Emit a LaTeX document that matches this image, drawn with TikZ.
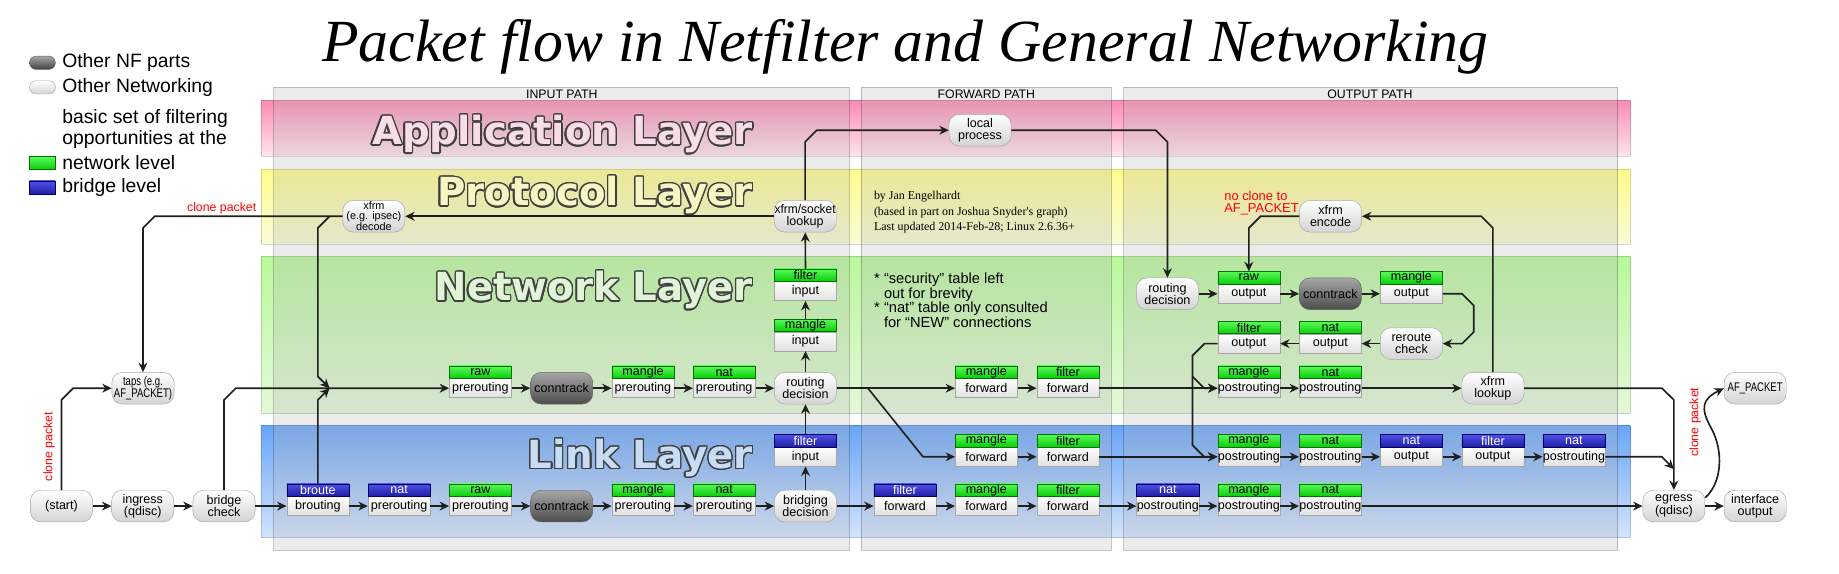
\documentclass[tikz,border=0pt]{standalone}
\usepackage{fontspec}
\setmainfont{Liberation Sans}
\newfontfamily\titlefont{Liberation Serif}
\newfontfamily\layerfont{DejaVu Sans}
\usepackage{graphicx}
\usepackage{contour}
\usetikzlibrary{positioning,arrows.meta,calc}

\contourlength{1.1pt}
\contournumber{24}

\definecolor{appTop}{RGB}{250,140,180}
\definecolor{appBot}{RGB}{255,228,238}
\definecolor{proTop}{RGB}{255,252,140}
\definecolor{proBot}{RGB}{250,250,215}
\definecolor{netTop}{RGB}{185,248,155}
\definecolor{netBot}{RGB}{228,248,218}
\definecolor{lnkTop}{RGB}{105,165,248}
\definecolor{lnkBot}{RGB}{212,228,252}
\definecolor{appText}{RGB}{248,220,232}
\definecolor{proText}{RGB}{248,245,195}
\definecolor{netText}{RGB}{224,244,216}
\definecolor{lnkText}{RGB}{200,221,245}
\definecolor{nfTop}{RGB}{90,250,90}
\definecolor{nfBot}{RGB}{10,205,10}
\definecolor{brTop}{RGB}{80,80,230}
\definecolor{brBot}{RGB}{30,30,165}

\newcommand{\nodefont}{\fontsize{10.7}{10.5}\selectfont}
\newcommand{\decodefont}{\fontsize{9.3}{8.4}\selectfont}

% table box: chain part with the table band on top
\newcommand{\tbl}[5]{%
  \node[chainbox] (#1) at (#2) {#5};
  \node[#3,above=0pt of #1] (#1-t) {#4};}

\begin{document}
\begin{tikzpicture}[x=1pt,y=-1pt,
    flow/.style={draw=black!88,line width=1.4pt,
      -{Stealth[length=8pt,width=7.5pt,inset=2.5pt]}},
    pill/.style={draw=black!35,rounded corners=9pt,top color=white,
      bottom color=black!17,minimum width=53pt,minimum height=27pt,
      inner sep=0pt,align=center,font=\nodefont},
    nfpart/.style={pill,draw=black!60,top color=black!35,bottom color=black!70},
    chainbox/.style={draw=black!35,top color=white,bottom color=black!12,
      minimum width=53pt,minimum height=16.2pt,inner sep=0pt,font=\nodefont},
    nfband/.style={draw=green!45!black,top color=nfTop,bottom color=nfBot,
      minimum width=53pt,minimum height=10.5pt,inner sep=0pt,font=\nodefont},
    brband/.style={nfband,draw=blue!40!black,top color=brTop,bottom color=brBot,
      text=white},
    panel/.style={fill={rgb,255:red,176;green,176;blue,176},fill opacity=.25,
      draw=black,draw opacity=.22,line width=.8pt},
    band/.style={draw=black,draw opacity=.15,line width=.6pt},
    layername/.style={font={\layerfont\bfseries\fontsize{33}{33}\selectfont},
      inner sep=0pt,anchor=base east},
    pathlbl/.style={font=\fontsize{10.5}{10.5}\selectfont,inner sep=0pt},
    redtxt/.style={text=red,font=\fontsize{10.5}{10.5}\selectfont,inner sep=0pt},
    legend/.style={font=\fontsize{16.5}{17.3}\selectfont,inner sep=0pt,
      anchor=west,align=left}]

    \useasboundingbox (0,0) rectangle (1568,489);

    % the layers
    \shade[band,top color=appTop,bottom color=appBot] (222.5,85.8) rectangle (1390,133);
    \shade[band,top color=proTop,bottom color=proBot] (222.5,144.4) rectangle (1390,208);
    \shade[band,top color=netTop,bottom color=netBot] (222.5,218.9) rectangle (1390,352.4);
    \shade[band,top color=lnkTop,bottom color=lnkBot] (222.5,363) rectangle (1390,458.5);

    % the paths
    \filldraw[panel] (233.3,74.5) rectangle (724,469);
    \filldraw[panel] (734.2,74.5) rectangle (947.5,469);
    \filldraw[panel] (958.3,74.5) rectangle (1379.2,469);
    \node[pathlbl] at (479,80.4) {INPUT PATH};
    \node[pathlbl] at (841,80.4) {FORWARD PATH};
    \node[pathlbl] at (1168,80.4) {OUTPUT PATH};

    \node[layername,text=appText] at (642,123.5) {\contour{black!75}{Application Layer}};
    \node[layername,text=proText] at (642,175.5) {\contour{black!75}{Protocol Layer}};
    \node[layername,text=netText] at (642,256.5) {\contour{black!75}{Network Layer}};
    \node[layername,text=lnkText] at (642,399.5) {\contour{black!75}{Link Layer}};

    % title and legend
    \node[font={\titlefont\itshape\fontsize{51}{51}\selectfont},anchor=base,
      inner sep=0pt] (title) at (772,52.6)
      {Packet flow in Netfilter and General Networking};
    \node[draw=black!60,rounded corners=5.5pt,top color=black!35,bottom color=black!75,
      minimum width=22pt,minimum height=11.3pt,inner sep=0pt] (lgnf) at (36.2,53.5) {};
    \node[draw=black!35,rounded corners=5.5pt,top color=white,bottom color=black!17,
      minimum width=22pt,minimum height=11.3pt,inner sep=0pt] (lgnet) at (36.2,74.5) {};
    \node[draw=green!45!black,top color=nfTop,bottom color=nfBot,minimum width=22pt,
      minimum height=10.8pt,inner sep=0pt] (lggreen) at (36.2,139) {};
    \node[draw=blue!40!black,top color=brTop,bottom color=brBot,minimum width=22pt,
      minimum height=11.4pt,inner sep=0pt] (lgblue) at (36.2,160) {};
    \node[legend] at (52.9,53.2) {Other NF parts};
    \node[legend] at (52.9,74.5) {Other Networking};
    \node[legend] at (52.9,110) {basic set of filtering\\opportunities at the};
    \node[legend] at (52.9,138.7) {network level};
    \node[legend] at (52.9,159.7) {bridge level};

    % notes
    \node[anchor=west,align=left,inner sep=0pt,
      font={\titlefont\fontsize{10.2}{13}\selectfont}] (credits) at (745,181)
      {by Jan Engelhardt\\(based in part on Joshua Snyder's graph)\\
       Last updated 2014-Feb-28; Linux 2.6.36+};
    \node[anchor=west,align=left,inner sep=0pt,
      font=\fontsize{12.5}{12.6}\selectfont] (notes) at (745.2,256)
      {* “security” table left\\\hphantom{* }out for brevity\\
       * “nat” table only consulted\\\hphantom{* }for “NEW” connections};

    % link layer
    \node[pill] (start) at (52.4,431.5) {(start)};
    \node[pill] (ingress) at (121.7,431.5) {ingress\\(qdisc)};
    \node[pill] (bridgecheck) at (191,431.5) {bridge\\check};
    \tbl{broute}{271,431.5}{brband}{broute}{brouting}
    \tbl{natpreb}{340.3,431.5}{brband}{nat}{prerouting}
    \tbl{rawpreb}{409.6,431.5}{nfband}{raw}{prerouting}
    \node[nfpart] (ctb) at (478.9,431.5) {conntrack};
    \tbl{manglepreb}{548.2,431.5}{nfband}{mangle}{prerouting}
    \tbl{natpreb2}{617.5,431.5}{nfband}{nat}{prerouting}
    \node[pill] (bridging) at (686.8,431.5) {bridging\\decision};
    \tbl{filterfwdb}{771.6,431.5}{brband}{filter}{forward}
    \tbl{manglefwdb}{841,431.5}{nfband}{mangle}{forward}
    \tbl{filterfwdb2}{910.5,431.5}{nfband}{filter}{forward}
    \tbl{natpostb}{995.7,431.5}{brband}{nat}{postrouting}
    \tbl{manglepostb}{1064.8,431.5}{nfband}{mangle}{postrouting}
    \tbl{natpostb2}{1134.3,431.5}{nfband}{nat}{postrouting}
    \node[pill] (egress) at (1427.2,431.5) {egress\\(qdisc)};
    \node[pill] (ifout) at (1496.5,431.5) {interface\\output};

    \tbl{filterinb}{686.8,389.5}{brband}{filter}{input}
    \tbl{manglefwdl}{841,389.5}{nfband}{mangle}{forward}
    \tbl{filterfwdl}{910.5,389.5}{nfband}{filter}{forward}
    \tbl{manglepostl}{1064.8,389.5}{nfband}{mangle}{postrouting}
    \tbl{natpostl}{1134.3,389.5}{nfband}{nat}{postrouting}
    \tbl{natoutl}{1203.4,389.5}{brband}{nat}{output}
    \tbl{filteroutl}{1272.9,389.5}{brband}{filter}{output}
    \tbl{natpostl2}{1342,389.5}{brband}{nat}{postrouting}

    % network layer
    \node[pill] (taps) at (121.9,331)
      {\scalebox{.76}[1]{taps (e.g.}\\\scalebox{.76}[1]{AF\_PACKET)}};
    \tbl{rawpre}{409.6,331}{nfband}{raw}{prerouting}
    \node[nfpart] (ct) at (478.9,331) {conntrack};
    \tbl{manglepre}{548.2,331}{nfband}{mangle}{prerouting}
    \tbl{natpre}{617.5,331}{nfband}{nat}{prerouting}
    \node[pill] (routing) at (686.8,331) {routing\\decision};
    \tbl{manglefwd}{841,331}{nfband}{mangle}{forward}
    \tbl{filterfwd}{910.5,331}{nfband}{filter}{forward}
    \tbl{manglepost}{1064.8,331}{nfband}{mangle}{postrouting}
    \tbl{natpost}{1134.3,331}{nfband}{nat}{postrouting}
    \node[pill] (xfrmlookup) at (1272.9,331) {xfrm\\lookup};
    \node[pill] (afpacket) at (1496.5,331) {\scalebox{.76}[1]{AF\_PACKET}};

    \tbl{manglein}{686.8,291}{nfband}{mangle}{input}
    \tbl{filterin}{686.8,248.3}{nfband}{filter}{input}

    \node[pill] (routeout) at (995.4,250.5) {routing\\decision};
    \tbl{rawout}{1064.8,250.5}{nfband}{raw}{output}
    \node[nfpart] (ctout) at (1134.3,250.5) {conntrack};
    \tbl{mangleout}{1203.4,250.5}{nfband}{mangle}{output}
    \tbl{filterout}{1064.8,293}{nfband}{filter}{output}
    \tbl{natout}{1134.3,293}{nfband}{nat}{output}
    \node[pill] (reroute) at (1203.4,293) {reroute\\check};

    % protocol and application layer
    \node[pill,font=\decodefont] (decode) at (318.8,184.4) {xfrm\\(e.g. ipsec)\\decode};
    \node[pill] (lookup) at (686.5,184.4) {\scalebox{.95}[1]{xfrm/socket}\\lookup};
    \node[pill] (encode) at (1134.5,184.4) {xfrm\\encode};
    \node[pill] (local) at (835.6,111) {local\\process};

    \node[redtxt] at (189,178) {clone packet};
    \node[redtxt,rotate=90] at (42,380.7) {clone packet};
    \node[redtxt,rotate=90] at (1445.3,360) {clone packet};
    \node[redtxt,align=left,anchor=west,font=\fontsize{11}{10.5}\selectfont]
      at (1043.7,173) {no clone to\\AF\_PACKET};

    % the flows
    \foreach \a/\b in {start/ingress,ingress/bridgecheck,bridgecheck/broute,
        broute/natpreb,natpreb/rawpreb,rawpreb/ctb,ctb/manglepreb,
        manglepreb/natpreb2,natpreb2/bridging,bridging/filterfwdb,
        filterfwdb/manglefwdb,manglefwdb/filterfwdb2,filterfwdb2/natpostb,
        natpostb/manglepostb,manglepostb/natpostb2,natpostb2/egress,egress/ifout,
        manglefwdl/filterfwdl,filterfwdl/manglepostl,manglepostl/natpostl,
        natpostl/natoutl,natoutl/filteroutl,filteroutl/natpostl2,
        rawpre/ct,ct/manglepre,manglepre/natpre,natpre/routing,
        routing/manglefwd,manglefwd/filterfwd,filterfwd/manglepost,
        manglepost/natpost,natpost/xfrmlookup,
        bridging/filterinb,filterinb-t/routing,routing/manglein,
        manglein-t/filterin,filterin-t/lookup,lookup/decode,
        routeout/rawout,rawout/ctout,ctout/mangleout,
        reroute/natout,natout/filterout}
      \draw[flow] (\a) -- (\b);

    \coordinate (jn) at (281,331);
    \coordinate (decsplit) at (281,184.4);
    \coordinate (fwdsplit) at (740,331);
    \coordinate (outsplit) at (1016.7,321);
    \coordinate (egin) at (1427.2,400);

    \draw[flow] (start.north) -- (52.4,341) -- (62.4,331) -- (taps.west);
    \draw[flow] (bridgecheck.north) -- (191,341) -- (201,331) -- (rawpre.west);
    \draw[flow] (broute-t.north) -- (271,341) -- (jn);
    \draw[flow] (decode.west) -- (131.9,184.4) -- (121.9,194.4) -- (taps.north);
    \draw[flow] (decsplit) -- (271,194.4) -- (271,321) -- (jn);
    \draw[flow] (lookup.north) -- (686.5,121) -- (696.5,111) -- (local.west);
    \draw[flow] (local.east) -- (985.4,111) -- (995.4,121) -- (routeout.north);
    \draw[flow] (fwdsplit) -- (787,389.5) -- (manglefwdl.west);
    \draw[flow] (xfrmlookup.east) -- (1417,331) -- (1427.2,341) -- (egress.north);
    \draw[flow] (natpostl2.east) -- (1417,389.5) -- (egin);
    \draw[flow] (egress.15) .. controls (1468,412) and (1470,385) .. (1459,365)
      .. controls (1449,347) and (1452,340) .. (afpacket.west);
    \draw[flow] (mangleout.east) -- (1246.6,250.5) -- (1256.6,260.5)
      -- (1256.6,283) -- (1246.6,293) -- (reroute.east);
    \draw[flow] (filterout.west) -- (1027,293) -- (1016.7,303.3)
      -- (1016.7,379.5) -- (1026.7,389.5) -- (manglepostl.west);
    \draw[flow] (outsplit) -- (1026.7,331) -- (manglepost.west);
    \draw[flow] (xfrmlookup.north) -- (1272.9,194.4) -- (1262.9,184.4) -- (encode.east);
    \draw[flow] (encode.west) -- (1074.8,184.4) -- (1064.8,194.4) -- (rawout-t.north);

\end{tikzpicture}
\end{document}
